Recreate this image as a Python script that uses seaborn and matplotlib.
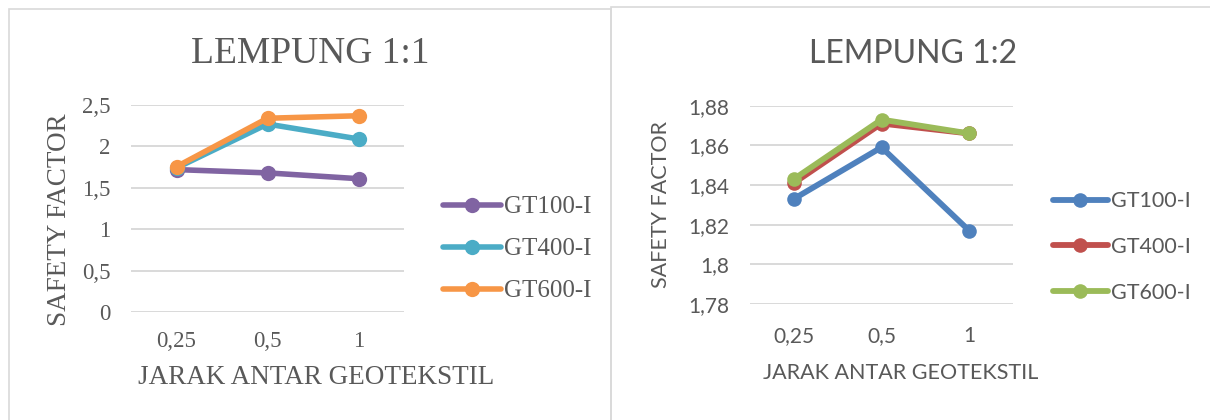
import matplotlib
matplotlib.use("Agg")
import matplotlib.pyplot as plt
from matplotlib.lines import Line2D
from matplotlib.patches import Rectangle
from matplotlib.ticker import FuncFormatter, MultipleLocator
import pandas as pd
import seaborn as sns

# Spacing between geotextile layers (x categories) and geotextile types
spacing = ["0,25", "0,5", "1"]
series = ["GT100-I", "GT400-I", "GT600-I"]

# Safety factor, clay slope 1:1
sf_11_gt100 = [1.72, 1.68, 1.61]
sf_11_gt400 = [1.74, 2.27, 2.09]
sf_11_gt600 = [1.755, 2.34, 2.37]

# Safety factor, clay slope 1:2
sf_12_gt100 = [1.833, 1.859, 1.817]
sf_12_gt400 = [1.841, 1.871, 1.866]
sf_12_gt600 = [1.843, 1.873, 1.866]

colors_11 = ["#8064A2", "#4BACC6", "#F79646"]
colors_12 = ["#4F81BD", "#C0504D", "#9BBB59"]

TEXT = "#595959"
GRID = "#D9D9D9"
SERIF = ["Liberation Serif", "DejaVu Serif"]
SANS = ["Lato", "DejaVu Sans"]

sns.set_theme(style="white")

W, H = 1210, 420
fig = plt.figure(figsize=(W / 100, H / 100), dpi=100)
fig.patch.set_facecolor("white")


def px_axes(x0, y_top, x1, y_bottom):
    return fig.add_axes([x0 / W, (H - y_bottom) / H, (x1 - x0) / W, (y_bottom - y_top) / H])


def long_form(values):
    rows = []
    for name, vals in zip(series, values):
        for x, v in zip(spacing, vals):
            rows.append({"jarak": x, "sf": v, "tipe": name})
    return pd.DataFrame(rows)


def comma(v, _pos):
    return f"{v:g}".replace(".", ",")


# Chart frames
fig.add_artist(Rectangle((8.5 / W, -0.05), 602 / W, (H - 9 + 21) / H,
                         transform=fig.transFigure, fill=False,
                         edgecolor=GRID, linewidth=1.2))
fig.add_artist(Rectangle((610.5 / W, -0.05), 700 / W, (H - 6.7 + 21) / H,
                         transform=fig.transFigure, fill=False,
                         edgecolor=GRID, linewidth=1.2))


def draw_panel(ax, values, colors, lw, ms, family, tick_size, title, title_size,
               label_size, legend_size, ylim, ystep, tick_pad_y, tick_pad_x,
               title_xy, ylabel_xy, xlabel_xy, legend_xy, legend_spacing,
               handle_len):
    df = long_form(values)
    sns.lineplot(data=df, x="jarak", y="sf", hue="tipe", palette=colors,
                 marker="o", markersize=ms, markeredgewidth=0, linewidth=lw,
                 sort=False, legend=False, ax=ax)
    ax.set_xlim(-0.5, 2.5)
    ax.set_ylim(*ylim)
    ax.yaxis.set_major_locator(MultipleLocator(ystep))
    ax.yaxis.set_major_formatter(FuncFormatter(comma))
    ax.grid(axis="y", color=GRID, linewidth=1.4)
    ax.grid(axis="x", visible=False)
    ax.set_axisbelow(True)
    for s in ax.spines.values():
        s.set_visible(False)
    ax.tick_params(axis="y", length=0, pad=tick_pad_y, labelsize=tick_size, labelcolor=TEXT)
    ax.tick_params(axis="x", length=0, pad=tick_pad_x, labelsize=tick_size, labelcolor=TEXT)
    for lab in ax.get_xticklabels() + ax.get_yticklabels():
        lab.set_fontfamily(family)
    ax.set_xlabel("")
    ax.set_ylabel("")
    ax.patch.set_alpha(0)

    fig.text(title_xy[0] / W, 1 - title_xy[1] / H, title, ha="center", va="center",
             fontsize=title_size, color=TEXT, family=family)
    fig.text(ylabel_xy[0] / W, 1 - ylabel_xy[1] / H, "SAFETY FACTOR", rotation=90,
             ha="center", va="center", fontsize=label_size, color=TEXT, family=family)
    fig.text(xlabel_xy[0] / W, 1 - xlabel_xy[1] / H, "JARAK ANTAR GEOTEKSTIL",
             ha="center", va="center", fontsize=label_size, color=TEXT, family=family)

    handles = [Line2D([], [], color=c, linewidth=lw, marker="o", markersize=ms,
                      markeredgewidth=0) for c in colors]
    leg = ax.legend(handles, series, loc="center left",
                    bbox_to_anchor=(legend_xy[0] / W, 1 - legend_xy[1] / H),
                    bbox_transform=fig.transFigure, frameon=False,
                    borderaxespad=0, borderpad=0, handlelength=handle_len,
                    handletextpad=0.15, labelspacing=legend_spacing,
                    prop={"size": legend_size})
    for t in leg.get_texts():
        t.set_color(TEXT)
        t.set_fontfamily(family)


ax1 = px_axes(131, 105, 404, 312)
draw_panel(ax1, [sf_11_gt100, sf_11_gt400, sf_11_gt600], colors_11,
           lw=4.0, ms=11, family=SERIF, tick_size=16.5,
           title="LEMPUNG 1:1", title_size=27, label_size=19.5, legend_size=18,
           ylim=(0, 2.5), ystep=0.5, tick_pad_y=15, tick_pad_x=14,
           title_xy=(310, 54), ylabel_xy=(60, 220), xlabel_xy=(316, 377),
           legend_xy=(443, 249), legend_spacing=0.78, handle_len=2.3)

ax2 = px_axes(750, 105.7, 1013, 304)
draw_panel(ax2, [sf_12_gt100, sf_12_gt400, sf_12_gt600], colors_12,
           lw=4.2, ms=10.5, family=SANS, tick_size=15,
           title="LEMPUNG 1:2", title_size=23, label_size=15.5, legend_size=15.5,
           ylim=(1.78, 1.88), ystep=0.02, tick_pad_y=15, tick_pad_x=16,
           title_xy=(913, 54), ylabel_xy=(661, 205), xlabel_xy=(901, 373),
           legend_xy=(1053, 247), legend_spacing=1.2, handle_len=2.55)

fig.savefig("out.png", dpi=100, facecolor="white")
